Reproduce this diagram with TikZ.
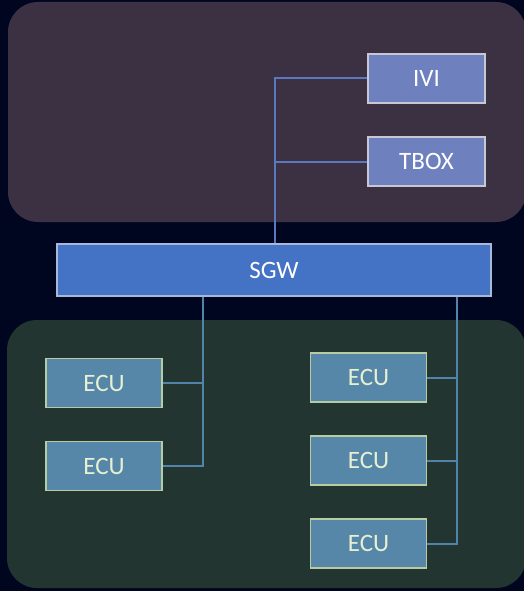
\documentclass[tikz,border=0pt]{standalone}
\usepackage{fontspec}
\setmainfont{Carlito}
\definecolor{bg}{HTML}{000620}
\definecolor{toppanel}{HTML}{3B3143}
\definecolor{botpanel}{HTML}{233530}
\definecolor{ivifill}{HTML}{6E80BE}
\definecolor{iviedge}{HTML}{C8C8D2}
\definecolor{sgwfill}{HTML}{4472C4}
\definecolor{sgwedge}{HTML}{A8B8D8}
\definecolor{ecufill}{HTML}{5687A8}
\definecolor{ecuedge}{HTML}{B8CCA4}
\definecolor{ecutext}{HTML}{E6F0D2}
\definecolor{toplink}{HTML}{5A78C0}
\definecolor{botlink}{HTML}{5284AA}
\begin{document}
\begin{tikzpicture}[x=1pt,y=-1pt,
  panel/.style={rounded corners=30pt},
  lbl/.style={font=\fontsize{25}{30}\selectfont},
  topbox/.style={lbl,draw=iviedge,fill=ivifill,line width=1.2pt,minimum width=117pt,minimum height=49pt,inner sep=0pt,text=white},
  ecubox/.style={lbl,draw=ecuedge,fill=ecufill,line width=1.2pt,minimum width=116pt,minimum height=49pt,inner sep=0pt,text=ecutext},
  sgwbox/.style={lbl,draw=sgwedge,fill=sgwfill,line width=1.2pt,minimum width=434pt,minimum height=52pt,inner sep=0pt,text=white},
  tlink/.style={draw=toplink,line width=2pt},
  blink/.style={draw=botlink,line width=2pt}]
\fill[bg] (0,0) rectangle (524,591);
\useasboundingbox (0,0) rectangle (524,591);
\fill[toppanel,panel] (8,2) rectangle (526,222);
\fill[botpanel,panel] (7,320) rectangle (526,588);

\node[topbox] (ivi) at (426.5,78.5) {IVI};
\node[topbox] (tbox) at (426.5,161.5) {TBOX};
\node[sgwbox] (sgw) at (274,270) {SGW};
\node[ecubox] (e1) at (104,383) {ECU};
\node[ecubox] (e2) at (104,466) {ECU};
\node[ecubox] (e3) at (368.5,377.5) {ECU};
\node[ecubox] (e4) at (368.5,460.5) {ECU};
\node[ecubox] (e5) at (368.5,543.5) {ECU};

\coordinate (tj) at (274.5,161.5);
\coordinate (lj) at (203,383);
\coordinate (rj1) at (457,377.5);
\coordinate (rj2) at (457,460.5);

\draw[tlink] (sgw.north -| tj) -- (tj) |- (ivi.west);
\draw[tlink] (tj) -- (tbox.west);
\draw[blink] (sgw.south -| lj) |- (e2.east);
\draw[blink] (lj) -- (e1.east);
\draw[blink] (sgw.south -| rj1) |- (e5.east);
\draw[blink] (rj1) -- (e3.east);
\draw[blink] (rj2) -- (e4.east);
\end{tikzpicture}
\end{document}
